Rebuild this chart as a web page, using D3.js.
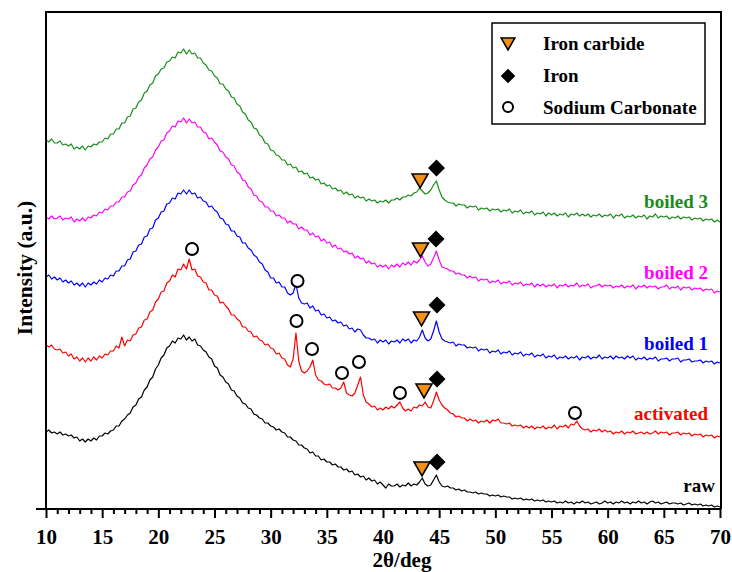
<!DOCTYPE html>
<html>
<head>
<meta charset="utf-8">
<script src="https://cdn.jsdelivr.net/npm/d3@7/dist/d3.min.js"></script>
<style>
  body { margin: 0; background: #fff; }
  text { font-family: "Liberation Serif", "Times New Roman", serif; font-weight: bold; }
</style>
</head>
<body>
<svg id="xrd"></svg>
<script>
// 2theta grid, one reading every 0.25 deg from 10 to 70
const twoTheta = d3.range(241).map(i => 10 + i * 0.25);

// intensities (a.u., already stacked)
const raw = [
  77,79,76,77, 75,77,74,75, 73,74,71,72, 68,70,67,70, 68,71,69,73,
  73,76,75,78, 79,83,83,88, 90,94,96,102, 104,110,112,119, 122,129,132,140,
  144,151,154,161, 163,168,166,171, 170,174,169,172, 168,170,164,163, 159,157,152,150,
  143,141,134,132, 127,125,119,118, 113,111,106,105, 101,100,95,94, 91,90,86,86,
  83,82,79,80, 77,76,72,72, 69,68,64,64, 61,60,56,57, 53,53,49,50,
  47,47,44,45, 42,42,39,40, 37,38,34,35, 32,33,29,31, 28,29,25,27,
  24,21,25,23, 23,25,22,24, 23,26,23,25, 24,27,31,25, 23,24,29,34,
  27,23,22,23, 21,21,19,20, 18,19,17,17, 16,17,15,16, 15,15,13,14,
  13,14,12,13, 12,12,10,11, 10,11,9,10, 9,10,8,9, 8,9,7,8,
  7,8,6,7, 6,8,6,7, 5,7,6,8, 6,7,5,6, 7,5,6,8,
  6,7,5,7, 6,8,6,7, 5,7,6,8, 6,7,5,7, 8,6,7,5,
  6,7,5,6, 6,5,6,4, 5,6,4,5, 4,5,3,4, 3,4,2,3,
  2
];
const activated = [
  164,162,164,160, 159,160,156,157, 153,155,150,152, 148,151,147,151, 148,152,149,153,
  151,155,154,158, 158,163,161,172, 163,169,168,174, 175,181,182,189, 190,197,199,207,
  210,217,218,226, 228,234,232,240, 239,245,240,250, 239,240,233,232, 227,226,219,219,
  214,213,206,207, 203,200,194,194, 190,188,182,182, 178,177,172,173, 169,168,164,165,
  161,160,155,156, 151,150,144,142, 150,176,148,138, 136,138,142,149, 134,129,128,125,
  124,125,121,121, 119,121,127,116, 114,113,116,124, 132,114,107,105, 102,103,99,101,
  99,102,100,103, 101,104,107,101, 98,100,98,102, 101,104,103,107, 102,101,108,117,
  109,104,101,99, 96,95,92,93, 91,91,88,90, 88,89,86,88, 87,89,86,89,
  88,90,86,86, 85,86,83,84, 83,84,81,83, 81,83,80,82, 81,83,80,82,
  81,84,80,83, 82,84,81,85, 84,88,83,80, 79,80,77,79, 78,80,77,79,
  77,78,75,77, 76,78,75,77, 76,78,75,76, 77,75,77,75, 76,78,75,77,
  76,77,74,76, 76,77,74,76, 75,76,73,75, 74,75,72,74, 73,74,71,73,
  72
];
const boiled1 = [
  232,234,230,232, 229,231,227,229, 226,228,224,226, 223,226,222,226, 224,227,225,229,
  227,231,230,234, 233,238,238,243, 243,249,250,257, 258,264,265,272, 273,280,281,289,
  291,297,298,305, 306,311,310,316, 315,319,315,319, 315,316,311,312, 308,307,302,303,
  299,297,291,290, 285,284,278,278, 273,272,266,266, 261,259,254,252, 247,245,239,237,
  231,231,226,227, 222,222,216,214, 216,225,211,206, 205,206,201,203, 198,199,194,195,
  191,192,188,189, 186,187,183,184, 180,181,177,180, 179,174,171,171, 169,170,166,169,
  167,169,165,168, 167,169,166,170, 168,170,166,169, 168,172,179,171, 168,170,178,188,
  177,170,168,167, 166,167,163,165, 164,164,161,162, 161,162,158,160, 159,160,156,158,
  157,159,155,157, 156,158,154,156, 155,157,153,155, 154,156,152,154, 153,155,151,153,
  152,154,150,152, 151,153,150,152, 151,153,149,152, 151,153,150,152, 151,154,150,152,
  151,153,150,153, 151,152,150,153, 151,153,149,151, 150,152,149,151, 150,152,148,150,
  150,151,148,150, 150,151,147,149, 149,150,147,148, 148,149,146,148, 147,148,145,147,
  146
];
const boiled2 = [
  292,290,293,290, 291,293,289,291, 290,292,287,290, 288,291,288,292, 291,294,293,297,
  296,300,299,303, 303,307,307,312, 312,317,318,324, 326,332,334,341, 344,350,352,359,
  362,368,369,376, 378,383,382,388, 387,391,386,390, 386,387,382,382, 377,376,370,371,
  367,364,358,357, 352,350,344,343, 337,335,329,328, 322,320,314,313, 308,307,302,302,
  298,298,293,294, 291,291,286,288, 285,285,280,282, 279,279,274,276, 272,273,268,270,
  266,267,262,264, 260,261,257,258, 255,256,251,253, 250,251,246,248, 245,246,242,244,
  242,244,240,244, 242,245,242,246, 244,247,244,248, 246,249,253,247, 243,245,251,258,
  249,242,241,240, 238,238,235,236, 234,234,231,233, 231,232,228,230, 229,230,226,228,
  227,229,225,227, 226,228,224,226, 225,227,223,225, 224,226,222,225, 223,225,222,224,
  223,225,221,224, 223,225,222,224, 223,226,222,224, 223,225,221,223, 223,225,222,224,
  223,224,221,223, 222,224,221,223, 222,224,220,223, 222,224,221,223, 222,223,220,222,
  222,224,220,222, 221,223,219,222, 221,222,219,221, 220,221,218,220, 219,220,216,218,
  217
];
const boiled3 = [
  369,367,370,366, 366,368,364,365, 363,365,360,362, 360,363,359,363, 362,365,364,367,
  367,371,370,375, 375,380,380,386, 386,392,393,400, 401,407,409,416, 418,424,426,433,
  435,440,441,447, 448,452,451,457, 456,460,455,459, 455,456,451,451, 446,444,439,438,
  433,431,425,425, 420,418,412,411, 405,403,397,395, 389,387,381,380, 374,372,366,365,
  359,358,354,353, 349,349,344,345, 341,342,337,338, 335,336,331,332, 329,330,325,326,
  323,324,320,321, 318,319,315,317, 314,315,311,313, 311,312,308,310, 308,309,306,308,
  307,309,306,309, 309,311,309,312, 312,314,313,316, 317,321,318,315, 316,319,324,328,
  319,312,309,307, 306,306,303,305, 304,304,301,303, 302,303,299,301, 300,301,298,300,
  299,300,297,299, 298,300,296,298, 297,299,295,297, 296,298,294,296, 295,297,293,296,
  294,296,293,295, 294,296,292,295, 294,296,293,295, 293,295,292,294, 293,295,292,294,
  293,295,291,294, 293,295,291,293, 292,294,291,293, 292,294,290,293, 292,295,291,293,
  292,293,290,292, 291,293,290,292, 291,292,289,291, 290,291,288,290, 289,290,287,289,
  287
];

const seriesNames  = ['raw', 'activated', 'boiled 1', 'boiled 2', 'boiled 3'];
const seriesValues = [raw, activated, boiled1, boiled2, boiled3];
const seriesColors = ['#000000', '#ff0000', '#0000ff', '#ff00ff', '#1a8c1a'];

// phase markers: [2theta, intensity]
const ironCarbide = [[43.47, 40], [43.65, 118], [43.43, 190], [43.34, 259], [43.3, 328]];
const iron        = [[44.81, 47], [44.81, 130], [44.81, 204], [44.72, 270], [44.76, 341]];
const sodiumCarb  = [[23.0, 260], [32.39, 228], [32.3, 188], [33.68, 160], [36.35, 136],
                     [37.86, 147], [41.51, 116], [57.09, 96]];

const legendNames = ['Iron carbide', 'Iron', 'Sodium Carbonate'];
const majorTicks = [10, 15, 20, 25, 30, 35, 40, 45, 50, 55, 60, 65, 70];

const W = 732, H = 572;
let svg = d3.select('#xrd').attr('width', W).attr('height', H);

let xScale = d3.scaleLinear().domain([10, 70]).range([46, 720]);
let yScale = d3.scaleLinear().domain([0, 497]).range([509, 12]);

let line = d3.line()
  .x(function(d){return xScale(d[0]);})
  .y(function(d){return yScale(d[1]);});

seriesValues.forEach(function(vals, i) {
  svg.append('path')
    .datum(twoTheta.map(function(t, j){return [t, vals[j]];}))
    .attr('fill', 'none')
    .attr('stroke', seriesColors[i])
    .attr('stroke-width', 1.2)
    .attr('stroke-linejoin', 'round')
    .attr('d', line);
});

// frame
svg.append('path')
  .attr('d', `M46,509V12H721V509`)
  .attr('fill', 'none')
  .attr('stroke', '#000')
  .attr('stroke-width', 2);
svg.append('line')
  .attr('x1', 36).attr('x2', 721)
  .attr('y1', 509).attr('y2', 509)
  .attr('stroke', '#000')
  .attr('stroke-width', 2);

let minorAxis = d3.axisBottom(xScale)
  .tickValues(d3.range(10, 71).filter(function(v){return v % 5 !== 0;}))
  .tickSize(5)
  .tickFormat('');
let majorAxis = d3.axisBottom(xScale)
  .tickValues(majorTicks)
  .tickSize(9)
  .tickPadding(11)
  .tickFormat(d3.format('d'));

[minorAxis, majorAxis].forEach(function(ax) {
  let g = svg.append('g')
    .attr('transform', `translate(0, 509)`)
    .call(ax);
  g.select('.domain').remove();
  g.selectAll('.tick line').attr('stroke-width', 2);
  g.selectAll('.tick text')
    .attr('font-size', 21)
    .attr('fill', '#000')
    .style('font-family', '"Liberation Serif", "Times New Roman", serif')
    .style('font-weight', 'bold');
});

svg.append('text')
  .attr('x', 402).attr('y', 567)
  .attr('text-anchor', 'middle')
  .attr('font-size', 21)
  .text('2\u03B8/deg');

svg.append('text')
  .attr('transform', 'translate(32, 268) rotate(-90)')
  .attr('text-anchor', 'middle')
  .attr('font-size', 21.5)
  .text('Intensity (a.u.)');

// series labels
const labelPos = [[69.55, 17], [68.93, 89], [68.93, 159], [68.93, 230], [68.93, 301]];
seriesNames.forEach(function(name, i) {
  svg.append('text')
    .attr('x', xScale(labelPos[i][0]))
    .attr('y', yScale(labelPos[i][1]))
    .attr('text-anchor', 'end')
    .attr('font-size', 19)
    .attr('fill', seriesColors[i])
    .text(name);
});

// markers
const tri = 'M-8,-7L8,-7L0,7Z';
const dia = 'M0,-8.5L8.5,0L0,8.5L-8.5,0Z';

function drawTri(g, px, py, s) {
  g.append('path')
    .attr('transform', `translate(${px},${py}) scale(${s})`)
    .attr('d', tri)
    .attr('fill', '#f39019')
    .attr('stroke', '#000')
    .attr('stroke-width', 1.6 / s);
}
function drawDia(g, px, py, s) {
  g.append('path')
    .attr('transform', `translate(${px},${py}) scale(${s})`)
    .attr('d', dia)
    .attr('fill', '#000');
}
function drawCirc(g, px, py, r) {
  g.append('circle')
    .attr('cx', px).attr('cy', py).attr('r', r)
    .attr('fill', '#fff')
    .attr('stroke', '#000')
    .attr('stroke-width', 2);
}

let marks = svg.append('g');
ironCarbide.forEach(function(d){ drawTri(marks, xScale(d[0]), yScale(d[1]), 1); });
iron.forEach(function(d){ drawDia(marks, xScale(d[0]), yScale(d[1]), 1); });
sodiumCarb.forEach(function(d){ drawCirc(marks, xScale(d[0]), yScale(d[1]), 6); });

// legend
let legend = svg.append('g');
legend.append('rect')
  .attr('x', 492).attr('y', 23)
  .attr('width', 213).attr('height', 101)
  .attr('fill', '#fff')
  .attr('stroke', '#000')
  .attr('stroke-width', 1.5);
drawTri(legend, 508, 44, 0.85);
drawDia(legend, 508, 76, 0.85);
drawCirc(legend, 508, 107, 5);
legendNames.forEach(function(name, i) {
  legend.append('text')
    .attr('x', 543)
    .attr('y', 50 + i * 32)
    .attr('font-size', 19)
    .text(name);
});
</script>
</body>
</html>
